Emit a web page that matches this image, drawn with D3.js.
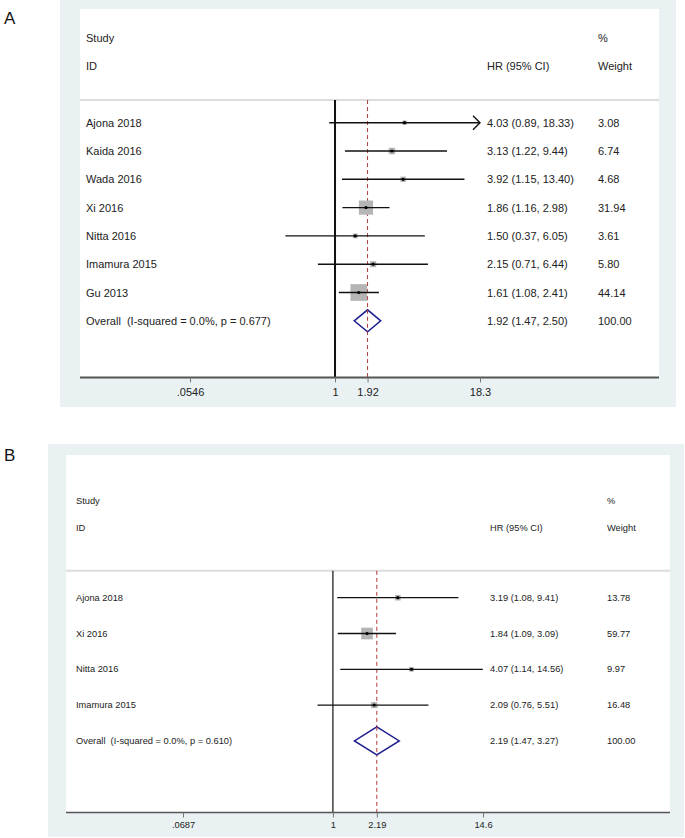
<!DOCTYPE html>
<html>
<head>
<meta charset="utf-8">
<script src="https://cdn.jsdelivr.net/npm/d3@7"></script>
<style>
  html, body { margin: 0; padding: 0; background: #ffffff; }
  svg { display: block; font-family: "Liberation Sans", Arial, sans-serif; }
  svg text { white-space: pre; }
</style>
</head>
<body>
<svg id="chart" width="685" height="838"></svg>
<script>
// ---------------- Panel A data ----------------
const studiesA = ["Ajona 2018", "Kaida 2016", "Wada 2016", "Xi 2016", "Nitta 2016", "Imamura 2015", "Gu 2013"];
const hrA      = [4.03, 3.13, 3.92, 1.86, 1.50, 2.15, 1.61];
const lowA     = [0.89, 1.22, 1.15, 1.16, 0.37, 0.71, 1.08];
const highA    = [18.33, 9.44, 13.40, 2.98, 6.05, 6.44, 2.41];
const weightA  = [3.08, 6.74, 4.68, 31.94, 3.61, 5.80, 44.14];
const overallLabelA = "Overall  (I-squared = 0.0%, p = 0.677)";
const overallA = [1.92, 1.47, 2.50, 100.00]; // HR, low, high, weight
const ticksA = [0.0546, 1, 1.92, 18.3];
const tickLabelsA = [".0546", "1", "1.92", "18.3"];

// ---------------- Panel B data ----------------
const studiesB = ["Ajona 2018", "Xi 2016", "Nitta 2016", "Imamura 2015"];
const hrB      = [3.19, 1.84, 4.07, 2.09];
const lowB     = [1.08, 1.09, 1.14, 0.76];
const highB    = [9.41, 3.09, 14.56, 5.51];
const weightB  = [13.78, 59.77, 9.97, 16.48];
const overallLabelB = "Overall  (I-squared = 0.0%, p = 0.610)";
const overallB = [2.19, 1.47, 3.27, 100.00];
const ticksB = [0.0687, 1, 2.19, 14.6];
const tickLabelsB = [".0687", "1", "2.19", "14.6"];

const headerLeft = ["Study", "ID"];
const headerHR = "HR (95% CI)";
const headerW = ["%", "Weight"];

// ---------------- layout (styles / positions) ----------------
const layoutA = {
  letter: "A", letterX: 4, letterY: 24,
  outer: [60, 0, 676, 407], inner: [80, 9, 659],
  xr: [190, 480], row0: 122.7, step: 28.3,
  studyRow: -3, idRow: -2, sepRow: -0.8, axisRow: 9,
  textX: 86, hrX: 487, wX: 598, font: 11, tickFont: 11, tickDy: 15,
  boxK: 2.51, diamondH: 11, refW: 2, axisW: 2, ciW: 1.4, sepW: 2
};
const layoutB = {
  letter: "B", letterX: 4, letterY: 461,
  outer: [48, 444, 684, 837], inner: [66, 455, 670],
  xr: [183, 483], row0: 597.7, step: 35.8,
  studyRow: -2.7, idRow: -1.94, sepRow: -0.75, axisRow: 6,
  textX: 76, hrX: 490, wX: 607, font: 9.3, tickFont: 9.3, tickDy: 13,
  boxK: 1.51, diamondH: 14, refW: 1.2, axisW: 1.3, ciW: 1.3, sepW: 2
};

const svg = d3.select("#chart");
const fmt = d3.format(".2f");

function drawPanel(L, studies, hr, low, high, weight, overallLabel, overall, ticks, tickLabels) {
  const g = svg.append("g");
  const x = d3.scaleLog().domain([ticks[0], ticks[ticks.length - 1]]).range(L.xr);
  const y = d3.scaleLinear().domain([0, 1]).range([L.row0, L.row0 + L.step]);
  const xMaxVal = ticks[ticks.length - 1];
  const axisY = y(L.axisRow);
  const sepY = y(L.sepRow);

  // backgrounds
  g.append("rect").attr("x", L.outer[0]).attr("y", L.outer[1])
    .attr("width", L.outer[2] - L.outer[0]).attr("height", L.outer[3] - L.outer[1])
    .attr("fill", "#e9f1f3");
  g.append("rect").attr("x", L.inner[0]).attr("y", L.inner[1])
    .attr("width", L.inner[2] - L.inner[0]).attr("height", axisY - L.inner[1])
    .attr("fill", "#ffffff");

  // panel letter
  svg.append("text").attr("x", L.letterX).attr("y", L.letterY)
    .attr("font-size", 17).attr("fill", "#111").text(L.letter);

  // headers
  const hdr = g.append("g").attr("font-size", L.font).attr("fill", "#222");
  hdr.append("text").attr("x", L.textX).attr("y", y(L.studyRow)).attr("dominant-baseline", "central").text(headerLeft[0]);
  hdr.append("text").attr("x", L.textX).attr("y", y(L.idRow)).attr("dominant-baseline", "central").text(headerLeft[1]);
  hdr.append("text").attr("x", L.hrX).attr("y", y(L.idRow)).attr("dominant-baseline", "central").text(headerHR);
  hdr.append("text").attr("x", L.wX).attr("y", y(L.studyRow)).attr("dominant-baseline", "central").text(headerW[0]);
  hdr.append("text").attr("x", L.wX).attr("y", y(L.idRow)).attr("dominant-baseline", "central").text(headerW[1]);

  // separator
  g.append("line").attr("x1", L.inner[0]).attr("x2", L.inner[2])
    .attr("y1", sepY).attr("y2", sepY).attr("stroke", "#dcdcdc").attr("stroke-width", L.sepW);

  // reference line at 1
  g.append("line").attr("x1", x(1)).attr("x2", x(1)).attr("y1", sepY).attr("y2", axisY)
    .attr("stroke", "#111").attr("stroke-width", L.refW);
  // dashed overall line
  g.append("line").attr("x1", x(overall[0])).attr("x2", x(overall[0])).attr("y1", sepY).attr("y2", axisY)
    .attr("stroke", "#b03a3a").attr("stroke-width", 1).attr("stroke-dasharray", "4,3");

  const rows = studies.map((s, i) => ({ s, hr: hr[i], lo: low[i], hi: high[i], w: weight[i], i }));

  // boxes
  g.selectAll(".box").data(rows).enter().append("rect")
    .attr("x", d => x(d.hr) - L.boxK * Math.sqrt(d.w) / 2)
    .attr("y", d => y(d.i) - L.boxK * Math.sqrt(d.w) / 2)
    .attr("width", d => L.boxK * Math.sqrt(d.w))
    .attr("height", d => L.boxK * Math.sqrt(d.w))
    .attr("fill", "#b5b5b5");

  // CI lines
  g.selectAll(".ci").data(rows).enter().append("line")
    .attr("x1", d => x(d.lo)).attr("x2", d => x(Math.min(d.hi, xMaxVal)))
    .attr("y1", d => y(d.i)).attr("y2", d => y(d.i))
    .attr("stroke", "#111").attr("stroke-width", L.ciW);

  // arrows for clipped CIs
  rows.filter(d => d.hi > xMaxVal).forEach(d => {
    const ax = x(xMaxVal), ay = y(d.i);
    g.append("path").attr("d", `M${ax - 7},${ay - 7} L${ax},${ay} L${ax - 7},${ay + 7}`)
      .attr("fill", "none").attr("stroke", "#111").attr("stroke-width", L.ciW);
  });

  // point estimates
  g.selectAll(".pt").data(rows).enter().append("circle")
    .attr("cx", d => x(d.hr)).attr("cy", d => y(d.i)).attr("r", 1.6).attr("fill", "#000");

  // texts
  const tg = g.append("g").attr("font-size", L.font).attr("fill", "#222");
  tg.selectAll(".lab").data(rows).enter().append("text")
    .attr("x", L.textX).attr("y", d => y(d.i)).attr("dominant-baseline", "central").text(d => d.s);
  tg.selectAll(".hr").data(rows).enter().append("text")
    .attr("x", L.hrX).attr("y", d => y(d.i)).attr("dominant-baseline", "central")
    .text(d => `${fmt(d.hr)} (${fmt(d.lo)}, ${fmt(d.hi)})`);
  tg.selectAll(".wt").data(rows).enter().append("text")
    .attr("x", L.wX).attr("y", d => y(d.i)).attr("dominant-baseline", "central").text(d => fmt(d.w));

  // overall
  const oi = studies.length;
  const oy = y(oi);
  g.append("path")
    .attr("d", `M${x(overall[1])},${oy} L${x(overall[0])},${oy - L.diamondH} L${x(overall[2])},${oy} L${x(overall[0])},${oy + L.diamondH} Z`)
    .attr("fill", "#ffffff").attr("stroke", "#1f1f8f").attr("stroke-width", 1.5);
  g.append("line").attr("x1", x(overall[0])).attr("x2", x(overall[0])).attr("y1", oy - L.diamondH).attr("y2", oy + L.diamondH)
    .attr("stroke", "#b03a3a").attr("stroke-width", 1).attr("stroke-dasharray", "4,3");
  tg.append("text").attr("x", L.textX).attr("y", oy).attr("dominant-baseline", "central").text(overallLabel);
  tg.append("text").attr("x", L.hrX).attr("y", oy).attr("dominant-baseline", "central")
    .text(`${fmt(overall[0])} (${fmt(overall[1])}, ${fmt(overall[2])})`);
  tg.append("text").attr("x", L.wX).attr("y", oy).attr("dominant-baseline", "central").text(fmt(overall[3]));

  // axis
  g.append("line").attr("x1", L.inner[0]).attr("x2", L.inner[2]).attr("y1", axisY).attr("y2", axisY)
    .attr("stroke", "#555").attr("stroke-width", L.axisW);
  const axis = d3.axisBottom(x).tickValues(ticks).tickFormat((d, i) => tickLabels[i]).tickSize(5).tickPadding(3);
  const ag = g.append("g").attr("transform", `translate(0,${axisY})`).call(axis);
  ag.select(".domain").remove();
  ag.selectAll(".tick line").attr("stroke", "#777").attr("stroke-width", 1);
  ag.selectAll(".tick text").attr("font-size", L.tickFont).attr("fill", "#222")
    .attr("font-family", "Liberation Sans, Arial, sans-serif")
    .attr("y", L.tickDy).attr("dy", "0.32em");
}

drawPanel(layoutA, studiesA, hrA, lowA, highA, weightA, overallLabelA, overallA, ticksA, tickLabelsA);
drawPanel(layoutB, studiesB, hrB, lowB, highB, weightB, overallLabelB, overallB, ticksB, tickLabelsB);
</script>
</body>
</html>
